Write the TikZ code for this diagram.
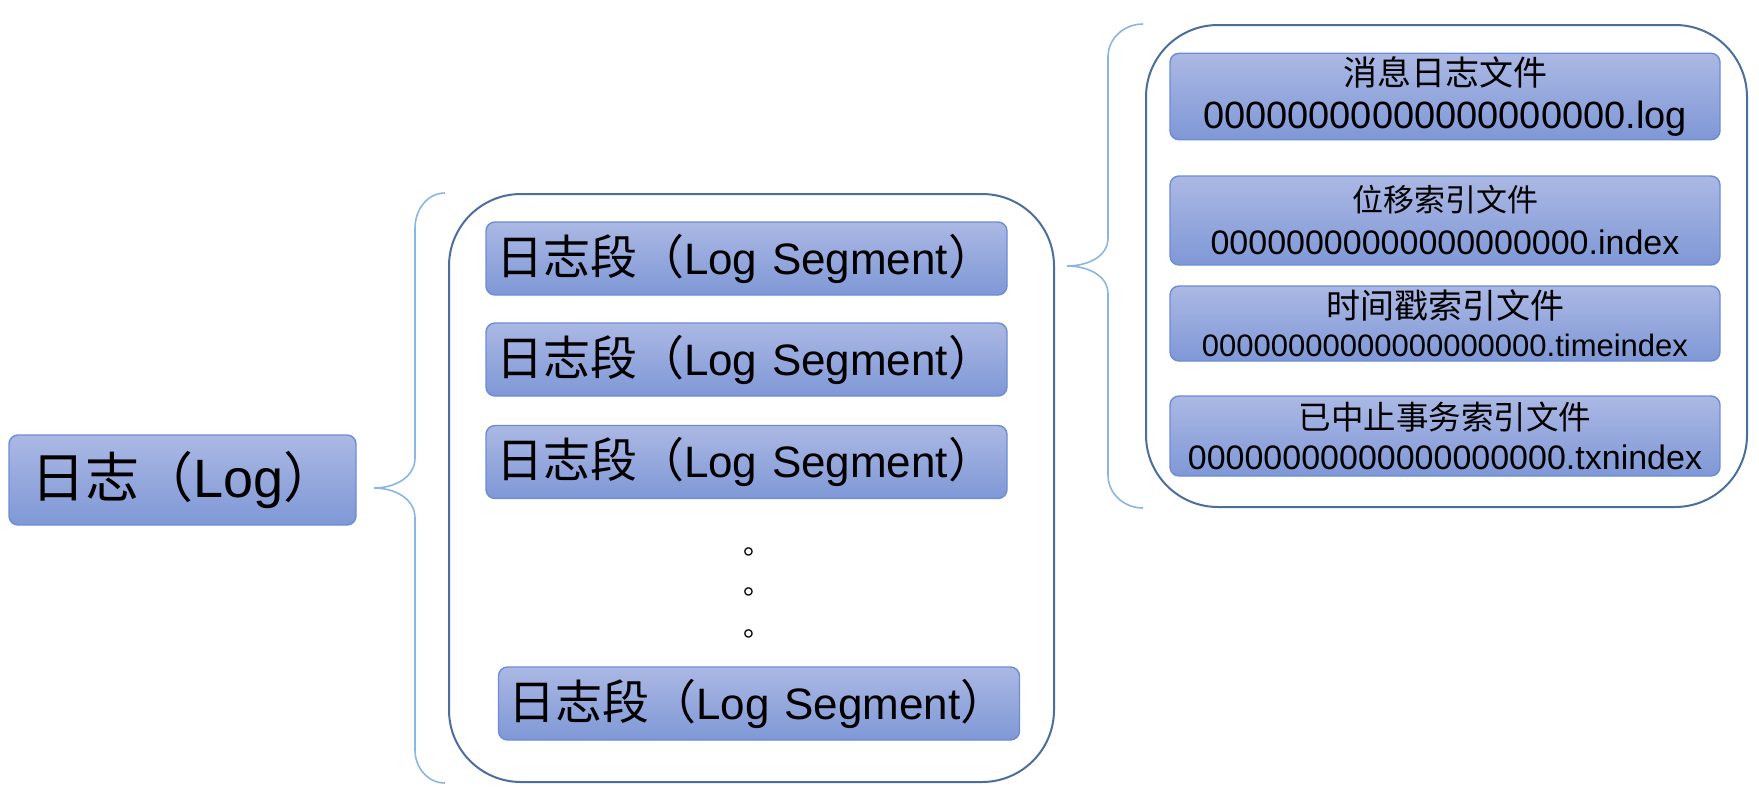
\documentclass[tikz,border=0pt]{standalone}
\usepackage{fontspec}
\setmainfont{Liberation Sans}
\newfontfamily\cjk{Noto Sans CJK SC}
\definecolor{itemtop}{HTML}{ABB8E4}
\definecolor{itembottom}{HTML}{7F98D6}
\definecolor{itemedge}{HTML}{6C8CD5}
\definecolor{framecol}{HTML}{4A6F9C}
\definecolor{bracecol}{HTML}{8CB6E2}
\begin{document}
\begin{tikzpicture}[
			x=1pt,y=-1pt,
			item/.style={draw=itemedge,line width=1.4pt,rounded corners=9pt,top color=itemtop,bottom color=itembottom},
			segbox/.style={item,minimum height=73pt,inner xsep=10pt,text width=501pt,align=left,font=\fontsize{44}{48}\selectfont},
			filebox/.style={item,minimum width=550pt,text width=530pt,inner xsep=10pt,align=center},
			frame/.style={draw=framecol,line width=2pt,rounded corners=72pt},
			brace/.style={draw=bracecol,line width=1.6pt},
			dot/.style={font=\cjk\fontsize{28}{28}\selectfont,inner sep=0pt}
		]
		\useasboundingbox (0,0) rectangle (1759,804);
		% root
		\node[item,minimum height=90pt,inner xsep=22pt,text width=303pt,align=left,font=\fontsize{54}{60}\selectfont] (log) at (182.5,480) {{\cjk 日志（}Log{\cjk ）}};
		% segments
		\node[frame,minimum width=605pt,minimum height=588pt] (segframe) at (751.5,488) {};
		\node[segbox] (seg1) at (746.5,258.5) {{\cjk\fontsize{47}{48}\selectfont 日志段（}Log Segment{\cjk\fontsize{47}{48}\selectfont ）}};
		\node[segbox] (seg2) at (746.5,359.5) {{\cjk\fontsize{47}{48}\selectfont 日志段（}Log Segment{\cjk\fontsize{47}{48}\selectfont ）}};
		\node[segbox] (seg3) at (746.5,462) {{\cjk\fontsize{47}{48}\selectfont 日志段（}Log Segment{\cjk\fontsize{47}{48}\selectfont ）}};
		\node[dot] (dot1) at (757,552) {。};
		\node[dot] (dot2) at (757,592) {。};
		\node[dot] (dot3) at (757,634) {。};
		\node[segbox] (seg4) at (759,703.5) {{\cjk\fontsize{47}{48}\selectfont 日志段（}Log Segment{\cjk\fontsize{47}{48}\selectfont ）}};
		% files of one segment
		\node[frame,minimum width=601pt,minimum height=482pt] (fileframe) at (1446.5,266) {};
		\node[filebox,minimum height=85pt,font=\fontsize{36}{43}\selectfont] (logfile) at (1445,96.5)
			{{\cjk\fontsize{34}{43}\selectfont 消息日志文件}\\{\fontsize{38}{43}\selectfont 00000000000000000000.log}};
		\node[filebox,minimum height=89pt,font=\fontsize{34}{43}\selectfont] (indexfile) at (1445,220.5)
			{{\cjk\fontsize{31}{43}\selectfont 位移索引文件}\\00000000000000000000.index};
		\node[filebox,minimum height=75pt,font=\fontsize{31}{38}\selectfont] (timefile) at (1445,323.5)
			{{\cjk\fontsize{34}{38}\selectfont 时间戳索引文件}\\00000000000000000000.timeindex};
		\node[filebox,minimum height=80pt,font=\fontsize{34}{40}\selectfont] (txnfile) at (1445,436)
			{{\cjk\fontsize{32.5}{40}\selectfont 已中止事务索引文件}\\00000000000000000000.txnindex};
		% braces
		\coordinate (ltip) at (374,488);
		\coordinate (rtip) at (1067,266);
		\draw[brace] ([xshift=-3pt]segframe.north west) to[out=180,in=90] (415,228) -- (415,458) to[out=-90,in=0] (ltip)
			to[out=0,in=90] (415,518) -- (415,750) to[out=-90,in=180] ([xshift=-3pt]segframe.south west);
		\draw[brace] ([xshift=-2pt]fileframe.north west) to[out=180,in=90] (1108,57) -- (1108,238) to[out=-90,in=0] (rtip)
			to[out=0,in=90] (1108,294) -- (1108,475) to[out=-90,in=180] ([xshift=-2pt]fileframe.south west);
	\end{tikzpicture}
\end{document}
